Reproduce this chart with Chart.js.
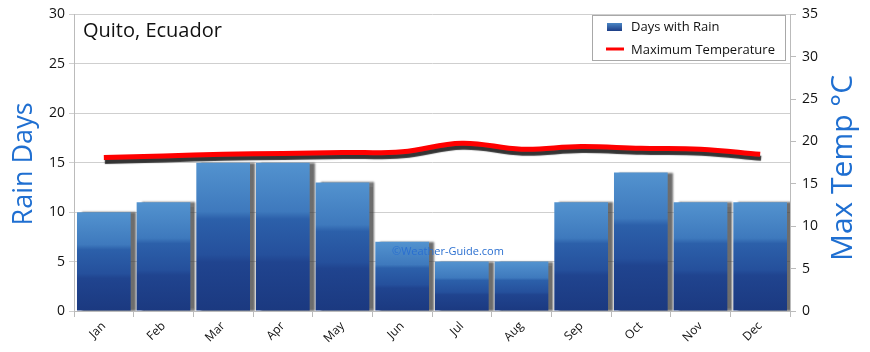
<!DOCTYPE html>
<html>
<head>
<meta charset="utf-8">
<script src="https://cdn.jsdelivr.net/npm/chart.js@4.4.0/dist/chart.umd.min.js"></script>
<style>
  html, body { margin: 0; padding: 0; background: #fff; }
  #wrap { width: 870px; height: 352px; position: relative; }
</style>
</head>
<body>
<div id="wrap"><canvas id="rainChart"></canvas></div>
<script>
// Quito climate data
const months = ['Jan', 'Feb', 'Mar', 'Apr', 'May', 'Jun', 'Jul', 'Aug', 'Sep', 'Oct', 'Nov', 'Dec'];
const rainDays = [10, 11, 15, 15, 13, 7, 5, 5, 11, 14, 11, 11];
const maxTemp = [18.1, 18.3, 18.5, 18.6, 18.7, 18.8, 19.8, 19.1, 19.4, 19.2, 19.1, 18.5];
const chartTitle = 'Quito, Ecuador';
const leftTitle = 'Rain Days';
const rightTitle = 'Max Temp °C';
const watermark = '©Weather-Guide.com';

const FONT = '"Open Sans", sans-serif';
const AXIS_BLUE = '#1f6fd1';

// glossy gradient, computed for each bar from its own top to the baseline
function barGradient(context) {
    const chart = context.chart;
    if (!chart.chartArea || context.type !== 'data') return '#2a5aa8';
    const yScale = chart.scales.y;
    const top = yScale.getPixelForValue(context.raw);
    const bottom = yScale.getPixelForValue(0);
    const g = chart.ctx.createLinearGradient(0, top, 0, bottom);
    g.addColorStop(0, '#5393cf');
    g.addColorStop(0.33, '#3e79bd');
    g.addColorStop(0.38, '#2c60aa');
    g.addColorStop(0.62, '#25509c');
    g.addColorStop(0.67, '#20448f');
    g.addColorStop(1, '#1b3980');
    return g;
}

// shadows for bars and line
const shadowPlugin = {
    id: 'shadows',
    beforeDatasetDraw(chart, args) {
        const ctx = chart.ctx;
        ctx.save();
        if (args.meta.type === 'bar') {
            ctx.shadowColor = 'rgba(60,60,60,0.75)';
            ctx.shadowOffsetX = 5;
            ctx.shadowOffsetY = 0;
            ctx.shadowBlur = 2;
        } else {
            ctx.shadowColor = 'rgba(30,30,30,0.9)';
            ctx.shadowOffsetX = 1;
            ctx.shadowOffsetY = 4;
            ctx.shadowBlur = 1;
        }
    },
    afterDatasetDraw(chart) {
        chart.ctx.restore();
    }
};

// titles, watermark and legend box
const decorPlugin = {
    id: 'decor',
    afterDatasetsDraw(chart) {
        const ctx = chart.ctx;
        const area = chart.chartArea;
        const sets = chart.data.datasets;
        const rainLabel = sets.find(d => d.type === 'bar').label;
        const tempLabel = sets.find(d => d.type === 'line').label;
        ctx.save();

        // watermark
        ctx.font = '11px ' + FONT;
        ctx.fillStyle = '#2a6fd0';
        ctx.textBaseline = 'middle';
        ctx.textAlign = 'left';
        ctx.fillText(watermark, 392, 252);

        // chart title
        ctx.font = '20px ' + FONT;
        ctx.fillStyle = '#111';
        ctx.fillText(chartTitle, area.left + 9, 31);

        // axis titles
        ctx.font = '27px ' + FONT;
        ctx.fillStyle = AXIS_BLUE;
        ctx.textAlign = 'center';
        ctx.translate(24, 164);
        ctx.rotate(-Math.PI / 2);
        ctx.fillText(leftTitle, 0, 0);
        ctx.setTransform(1, 0, 0, 1, 0, 0);
        ctx.font = '30px ' + FONT;
        ctx.translate(843, 168);
        ctx.rotate(-Math.PI / 2);
        ctx.fillText(rightTitle, 0, 0);
        ctx.setTransform(1, 0, 0, 1, 0, 0);

        // legend
        const lx = 592, ly = 15, lw = 193, lh = 45;
        ctx.fillStyle = '#fff';
        ctx.fillRect(lx, ly, lw, lh);
        ctx.strokeStyle = '#a8a8a8';
        ctx.lineWidth = 1;
        ctx.strokeRect(lx + 0.5, ly + 0.5, lw, lh);

        const sw = ctx.createLinearGradient(0, 23, 0, 31);
        sw.addColorStop(0, '#4a86c4');
        sw.addColorStop(1, '#1d3d86');
        ctx.fillStyle = sw;
        ctx.fillRect(607, 23, 15, 8);

        ctx.strokeStyle = '#ff0000';
        ctx.lineWidth = 3;
        ctx.beginPath();
        ctx.moveTo(606, 49);
        ctx.lineTo(624, 49);
        ctx.stroke();

        ctx.font = '13px ' + FONT;
        ctx.fillStyle = '#111';
        ctx.textAlign = 'left';
        ctx.textBaseline = 'middle';
        ctx.fillText(rainLabel, 631, 27);
        ctx.fillText(tempLabel, 631, 50);
        ctx.restore();
    }
};

const ctx = document.getElementById('rainChart').getContext('2d');
const rainChart = new Chart(ctx, {
    data: {
        labels: months,
        datasets: [{
            type: 'line',
            label: 'Maximum Temperature',
            data: maxTemp,
            yAxisID: 'y1',
            borderColor: '#ff0000',
            borderWidth: 5,
            tension: 0.4,
            pointRadius: 0,
            fill: false,
            order: 0
        }, {
            type: 'bar',
            label: 'Days with Rain',
            data: rainDays,
            yAxisID: 'y',
            backgroundColor: barGradient,
            borderWidth: 0,
            barPercentage: 0.9,
            categoryPercentage: 1.0,
            order: 1
        }]
    },
    options: {
        responsive: true,
        maintainAspectRatio: false,
        animation: false,
        layout: {
            padding: { top: 10, left: 0, right: 0, bottom: 0 }
        },
        scales: {
            x: {
                offset: true,
                grid: {
                    display: true,
                    drawOnChartArea: false,
                    color: '#bbb',
                    tickLength: 6
                },
                border: { color: '#bbb' },
                ticks: {
                    color: '#111',
                    font: { family: FONT, size: 12 },
                    minRotation: 45,
                    maxRotation: 45,
                    padding: 2
                },
                afterFit(scale) { scale.height = 41; }
            },
            y: {
                position: 'left',
                min: 0,
                max: 30,
                ticks: {
                    stepSize: 5,
                    color: '#111',
                    font: { family: FONT, size: 14 },
                    padding: 4
                },
                grid: {
                    color: '#cfcfcf',
                    tickLength: 5
                },
                border: { color: '#bbb' },
                afterFit(scale) { scale.width = 74; }
            },
            y1: {
                position: 'right',
                min: 0,
                max: 35,
                ticks: {
                    stepSize: 5,
                    color: '#111',
                    font: { family: FONT, size: 14 },
                    padding: 6
                },
                grid: {
                    drawOnChartArea: false,
                    color: '#bbb',
                    tickLength: 6
                },
                border: { color: '#bbb' },
                afterFit(scale) { scale.width = 80; }
            }
        },
        plugins: {
            legend: { display: false },
            tooltip: { enabled: false }
        }
    },
    plugins: [shadowPlugin, decorPlugin]
});
</script>
</body>
</html>
